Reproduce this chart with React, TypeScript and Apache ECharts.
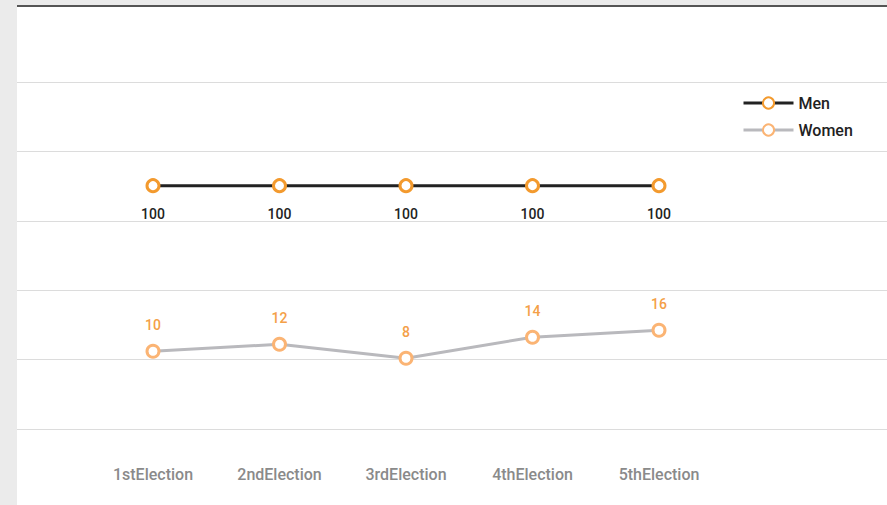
import React, { useEffect, useRef } from "react";
import * as echarts from "echarts";

const categories = ["1stElection", "2ndElection", "3rdElection", "4thElection", "5thElection"];
const menValues = [100, 100, 100, 100, 100];
const womenValues = [10, 12, 8, 14, 16];

export default function App() {
  const ref = useRef<HTMLDivElement>(null);
  useEffect(() => {
    document.body.style.margin = "0";
    const chart = echarts.init(ref.current!, null, { renderer: "svg" });
    const font = "Roboto, 'Noto Sans', sans-serif";
    chart.setOption({
      animation: false,
      textStyle: { fontFamily: font },
      legend: {
        orient: "vertical",
        left: 742,
        top: 95,
        padding: 0,
        itemWidth: 50,
        itemHeight: 14,
        itemGap: 11,
        lineStyle: { width: 3 },
        textStyle: { fontSize: 16, color: "#222", fontFamily: font, fontWeight: 500 },
        data: ["Men", "Women"],
      },
      grid: [
        { left: 17, right: 0, top: 82, bottom: 76 },
        { left: 89.75, width: 632.5, top: 82, bottom: 76 },
      ],
      xAxis: [
        { type: "value", gridIndex: 0, show: false, min: 0, max: 1 },
        {
          type: "category",
          gridIndex: 1,
          data: categories,
          boundaryGap: true,
          axisLine: { show: false },
          axisTick: { show: false },
          axisLabel: { color: "#8a8a8a", fontSize: 16, margin: 37, fontFamily: font, fontWeight: 500 },
        },
      ],
      yAxis: [
        {
          type: "value",
          gridIndex: 0,
          min: 0,
          max: 5,
          interval: 1,
          axisLine: { show: false },
          axisTick: { show: false },
          axisLabel: { show: false },
          splitLine: { lineStyle: { color: "#dcdcdc", width: 1 } },
        },
        { type: "value", gridIndex: 1, min: 0, max: 142.6, show: false, splitLine: { show: false } },
        { type: "value", gridIndex: 1, min: -12.2, max: 86.9, show: false, splitLine: { show: false } },
      ],
      series: [
        {
          name: "Men",
          type: "line",
          xAxisIndex: 1,
          yAxisIndex: 1,
          data: menValues,
          symbol: "circle",
          symbolSize: 12,
          lineStyle: { color: "#222", width: 3 },
          itemStyle: { color: "#fff", borderColor: "#f39a2e", borderWidth: 3 },
          label: { show: true, position: "bottom", distance: 14, color: "#222", fontSize: 14, fontFamily: font, fontWeight: 500 },
        },
        {
          name: "Women",
          type: "line",
          xAxisIndex: 1,
          yAxisIndex: 2,
          data: womenValues,
          symbol: "circle",
          symbolSize: 12,
          lineStyle: { color: "#b9b9bd", width: 3 },
          itemStyle: { color: "#fff", borderColor: "#fbb474", borderWidth: 3 },
          label: { show: true, position: "top", distance: 12, color: "#f4a048", fontSize: 14, fontFamily: font, fontWeight: 500 },
        },
      ],
    });
    return () => chart.dispose();
  }, []);
  return (
    <div style={{ position: "fixed", left: 0, top: 0, width: 887, height: 505, background: "#ebebeb" }}>
      <div
        style={{
          position: "absolute",
          left: 17,
          top: 5,
          right: 0,
          bottom: 0,
          background: "#fff",
          borderTop: "2px solid #555",
        }}
      />
      <div ref={ref} style={{ position: "absolute", left: 0, top: 0, width: 887, height: 505 }} />
    </div>
  );
}
